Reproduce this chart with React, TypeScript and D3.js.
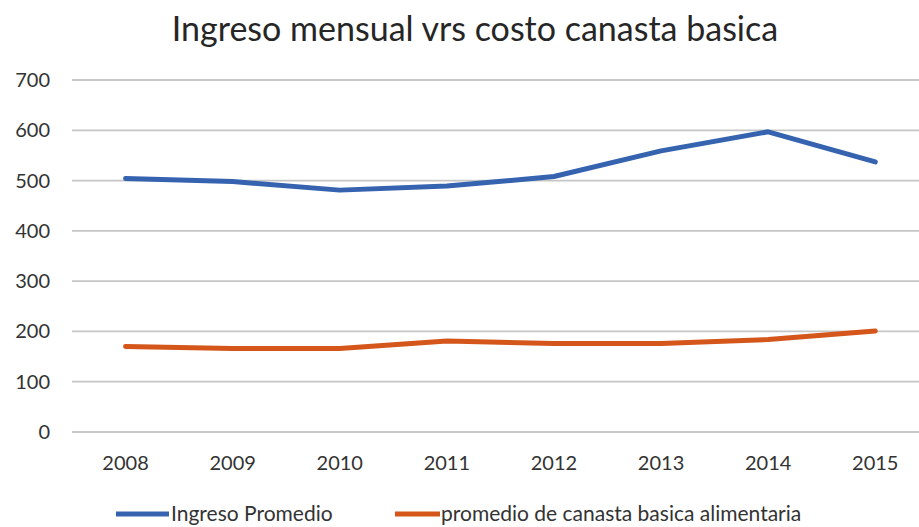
import React from "react";
import * as d3 from "d3";

const years = ["2008", "2009", "2010", "2011", "2012", "2013", "2014", "2015"];
const ingresoPromedio = [504, 498, 481, 489, 508, 559, 597, 537];
const canastaBasica = [170, 166, 166, 181, 176, 176, 184, 201];
const yTicks = [0, 100, 200, 300, 400, 500, 600, 700];
const seriesNames = ["Ingreso Promedio", "promedio de canasta basica alimentaria"];
const title = "Ingreso mensual vrs costo canasta basica";

const W = 919;
const H = 527;
const FONT = "Lato, 'Open Sans', sans-serif";

export default function App() {
  const x = d3.scaleBand<string>().domain(years).range([72, 72 + 8 * 107.1]);
  const y = d3.scaleLinear().domain([0, 700]).range([432, 80]);
  const cx = (d: string) => (x(d) as number) + x.bandwidth() / 2;
  const line = d3
    .line<number>()
    .x((_, i) => cx(years[i]))
    .y((v) => y(v));

  const colors = ["#3563b0", "#d4561a"];
  const series = [ingresoPromedio, canastaBasica];

  return (
    <svg
      width={W}
      height={H}
      style={{ position: "absolute", left: 0, top: 0, background: "#fff" }}
      fontFamily={FONT}
    >
      <rect x={0} y={0} width={W} height={H} fill="#fff" />
      <text x={475} y={41} textAnchor="middle" fontSize={34} fill="#262626">
        {title}
      </text>
      {yTicks.map((t) => (
        <g key={t}>
          <line x1={72} x2={W} y1={y(t)} y2={y(t)} stroke="#c6c6c6" strokeWidth={1.8} />
          <text x={50} y={y(t)} dy="0.35em" textAnchor="end" fontSize={20} fill="#333">
            {t}
          </text>
        </g>
      ))}
      {years.map((yr) => (
        <text key={yr} x={cx(yr)} y={463} dy="0.35em" textAnchor="middle" fontSize={20} fill="#333">
          {yr}
        </text>
      ))}
      {series.map((s, i) => (
        <path
          key={i}
          d={line(s) as string}
          fill="none"
          stroke={colors[i]}
          strokeWidth={5}
          strokeLinejoin="round"
          strokeLinecap="round"
        />
      ))}
      <g>
        <line x1={116} x2={169} y1={514} y2={514} stroke={colors[0]} strokeWidth={5} />
        <text x={171} y={514} dy="0.32em" fontSize={21} fill="#333">
          {seriesNames[0]}
        </text>
        <line x1={395} x2={440} y1={514} y2={514} stroke={colors[1]} strokeWidth={5} />
        <text x={441} y={514} dy="0.32em" fontSize={21} fill="#333">
          {seriesNames[1]}
        </text>
      </g>
    </svg>
  );
}
